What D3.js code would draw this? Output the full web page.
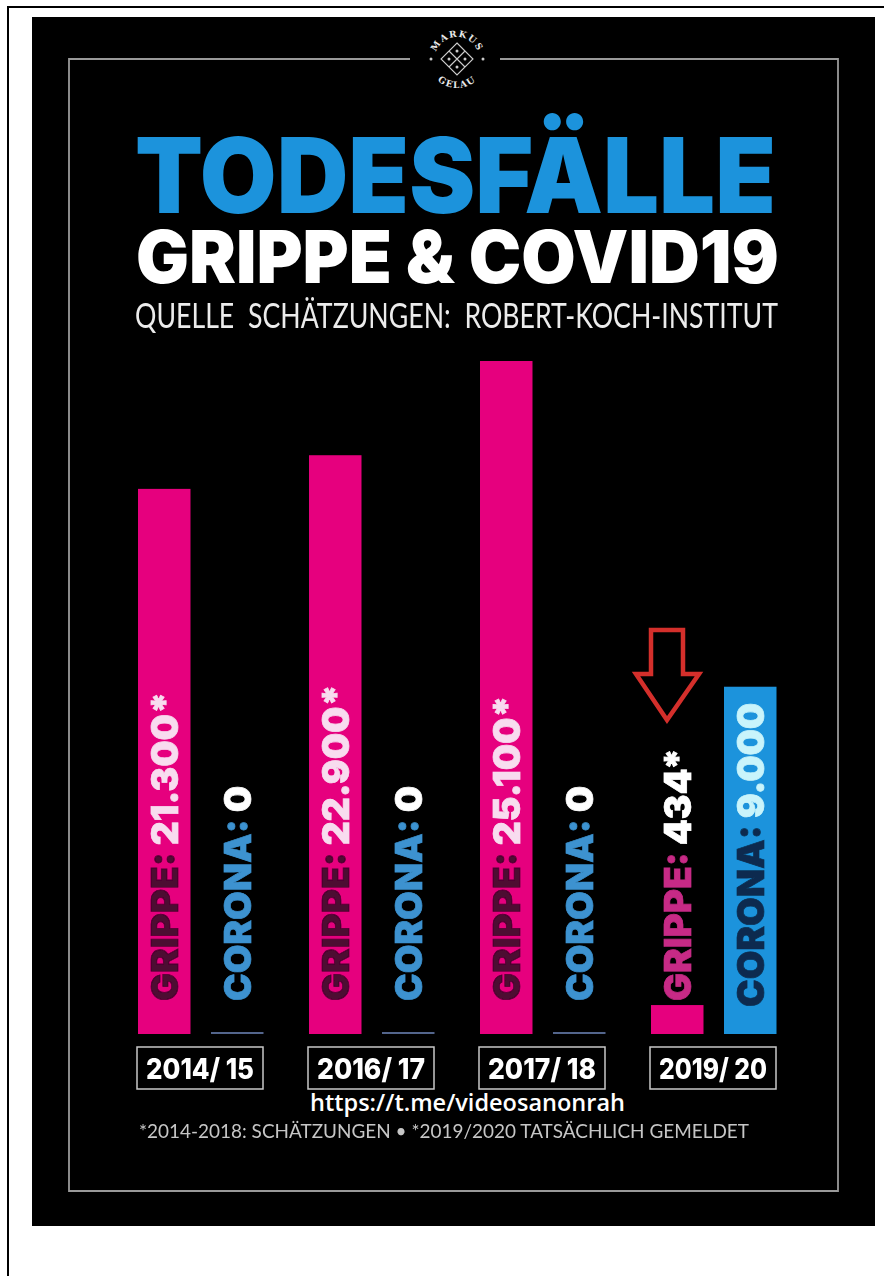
<!DOCTYPE html>
<html lang="de">
<head>
    <meta charset="UTF-8">
    <title>Todesfälle Grippe & Covid19</title>
    <script src="https://d3js.org/d3.v7.min.js"></script>
    <style>
        html, body { margin: 0; padding: 0; background: #fff; }
        svg { display: block; }
        .bar-label { font-family: Inter, sans-serif; font-weight: 900; font-size: 37px; stroke-width: 0.7px; }
        .bar-label tspan { stroke: currentColor; }
        .season { font-family: Inter, sans-serif; font-weight: 800; font-size: 29px; fill: #fff; }
    </style>
</head>
<body>
    <svg width="884" height="1276"></svg>
    <script>
        const seasons = ["2014/ 15", "2016/ 17", "2017/ 18", "2019/ 20"];
        const series = ["GRIPPE", "CORONA"];
        // bar lengths as drawn, in % of the tallest bar (the poster is not to scale)
        const grippeDrawn = [81, 86, 100, 4.3];
        const coronaDrawn = [0, 0, 0, 51.6];
        const grippeLabels = ["21.300*", "22.900*", "25.100*", "434*"];
        const coronaLabels = ["0", "0", "0", "9.000"];
        const footnote = "*2014-2018: SCHÄTZUNGEN • *2019/2020 TATSÄCHLICH GEMELDET";

        const svg = d3.select("svg");
        const MAGENTA = "#e6007e", BLUE = "#1a93dc";

        const defs = svg.append("defs");
        defs.append("filter").attr("id", "soft")
            .append("feGaussianBlur").attr("stdDeviation", 0.45);
        defs.append("path").attr("id", "arcTop").attr("d", "M435,59 A22,22 0 0 1 479,59");
        defs.append("path").attr("id", "arcBottom").attr("d", "M428,59 A29,29 0 0 0 486,59");

        // page lines + poster
        svg.append("path").attr("d", "M884,7H8V1276")
            .attr("fill", "none").attr("stroke", "#000").attr("stroke-width", 2);
        svg.append("rect").attr("x", 32).attr("y", 17).attr("width", 843).attr("height", 1209).attr("fill", "#000");

        const poster = svg.append("g").attr("filter", "url(#soft)");

        // frame with the gap for the logo
        poster.append("path")
            .attr("d", d3.line()([[410, 59], [69, 59], [69, 1191], [838, 1191], [838, 59], [500, 59]]))
            .attr("fill", "none").attr("stroke", "#9a9a9a").attr("stroke-width", 1.8);

        // logo
        const logo = svg.append("g");
        [["#arcTop", "MARKUS"], ["#arcBottom", "GELAU"]].forEach(t => {
            logo.append("text").attr("font-family", "DejaVu Serif").attr("font-weight", 700)
                .attr("font-size", 9).attr("letter-spacing", 1.4).attr("fill", "#e8e8e8").attr("text-anchor", "middle")
                .append("textPath").attr("href", t[0]).attr("startOffset", "50%").text(t[1]);
        });
        const d = 16;
        logo.append("path")
            .attr("d", `M457,${59 - d}L${457 + d},59L457,${59 + d}L${457 - d},59Z
                        M${457 - d / 2},${59 - d / 2}L${457 + d / 2},${59 + d / 2}
                        M${457 + d / 2},${59 - d / 2}L${457 - d / 2},${59 + d / 2}`)
            .attr("fill", "none").attr("stroke", "#ccc").attr("stroke-width", 1.1);
        logo.selectAll("circle").data([[431, 59], [483, 59], [457, 51], [457, 67], [449, 59], [465, 59]]).enter().append("circle")
            .attr("cx", p => p[0]).attr("cy", p => p[1]).attr("r", 1.5).attr("fill", "#ccc");

        // headings
        function heading(txt, x, y, w, size, fill, weight, family) {
            return poster.append("text").attr("x", x).attr("y", y)
                .attr("font-family", family).attr("font-weight", weight).attr("font-size", size)
                .attr("fill", fill).attr("textLength", w).attr("lengthAdjust", "spacingAndGlyphs")
                .text(txt);
        }
        heading("TODESFÄLLE", 135, 213, 641, 105, BLUE, 900, "Inter");
        heading("GRIPPE & COVID19", 136, 283, 643, 73, "#fff", 900, "Inter");
        heading("QUELLE  SCHÄTZUNGEN:  ROBERT-KOCH-INSTITUT", 135, 328, 643, 35, "#ececec", 400, "Lato")
            .style("white-space", "pre");

        // scales
        const x0 = d3.scaleBand().domain(seasons).range([138, 822]);
        const x1 = d3.scaleBand().domain(series).range([0, 146]);
        const y = d3.scaleLinear().domain([0, 100]).range([1034, 361]);
        const barW = 52.5;

        const rows = [];
        seasons.forEach((s, i) => {
            rows.push({ season: s, kind: "GRIPPE", v: grippeDrawn[i], label: grippeLabels[i] });
            rows.push({ season: s, kind: "CORONA", v: coronaDrawn[i], label: coronaLabels[i] });
        });
        const barX = r => x0(r.season) + x1(r.kind);

        poster.selectAll(".bar").data(rows).enter().append("rect")
            .attr("class", "bar")
            .attr("x", barX)
            .attr("width", barW)
            .attr("y", r => r.v > 0 ? y(r.v) : y(0) - 2)
            .attr("height", r => r.v > 0 ? y(0) - y(r.v) : 2)
            .attr("fill", r => r.v === 0 ? "#53658c" : r.kind === "GRIPPE" ? MAGENTA : BLUE);

        // rotated labels, name and value coloured apart
        const labels = poster.selectAll(".bar-label").data(rows).enter().append("text")
            .attr("class", "bar-label")
            .attr("transform", r => `translate(${barX(r) + 40},${r.v > 20 && r.kind === "CORONA" ? 1007 : 1001}) rotate(-90)`);
        labels.append("tspan")
            .style("color", r => {
                if (r.kind === "GRIPPE") return r.v > 20 ? "#4d0730" : "#c72a86";
                return r.v > 0 ? "#0c2c4f" : "#3c92d0";
            })
            .attr("fill", "currentColor")
            .text(r => r.kind + ": ");
        labels.append("tspan")
            .style("color", r => {
                if (r.kind === "GRIPPE") return r.v > 20 ? "#f8dcef" : "#fff";
                return r.v > 0 ? "#c9f4fb" : "#fff";
            })
            .attr("fill", "currentColor")
            .text(r => r.label);

        // season boxes
        const boxes = poster.selectAll(".box").data(seasons).enter().append("g").attr("class", "box")
            .attr("transform", s => `translate(${x0(s) - 1},1047)`);
        boxes.append("rect").attr("width", 126).attr("height", 42)
            .attr("fill", "none").attr("stroke", "#c8c8c8").attr("stroke-width", 1.5);
        boxes.append("text").attr("class", "season").attr("x", 9).attr("y", 32)
            .attr("textLength", 108).attr("lengthAdjust", "spacingAndGlyphs").text(s => s);

        // footnote
        heading(footnote, 139, 1138, 610, 20, "#c6c6c6", 400, "Lato");

        // arrow, added on top of the poster
        svg.append("path")
            .attr("d", d3.line()([[651, 630], [683, 630], [683, 674], [699, 674], [667, 720], [636, 674], [651, 674]]) + "Z")
            .attr("fill", "none").attr("stroke", "#d42f2b").attr("stroke-width", 4.5).attr("stroke-linejoin", "miter");

        // link overlay
        svg.append("text").attr("x", 310).attr("y", 1111)
            .attr("font-family", "Open Sans").attr("font-weight", 600).attr("font-size", 23)
            .attr("fill", "#fff").attr("textLength", 315).attr("lengthAdjust", "spacingAndGlyphs")
            .text("https://t.me/videosanonrah");
    </script>
</body>
</html>
